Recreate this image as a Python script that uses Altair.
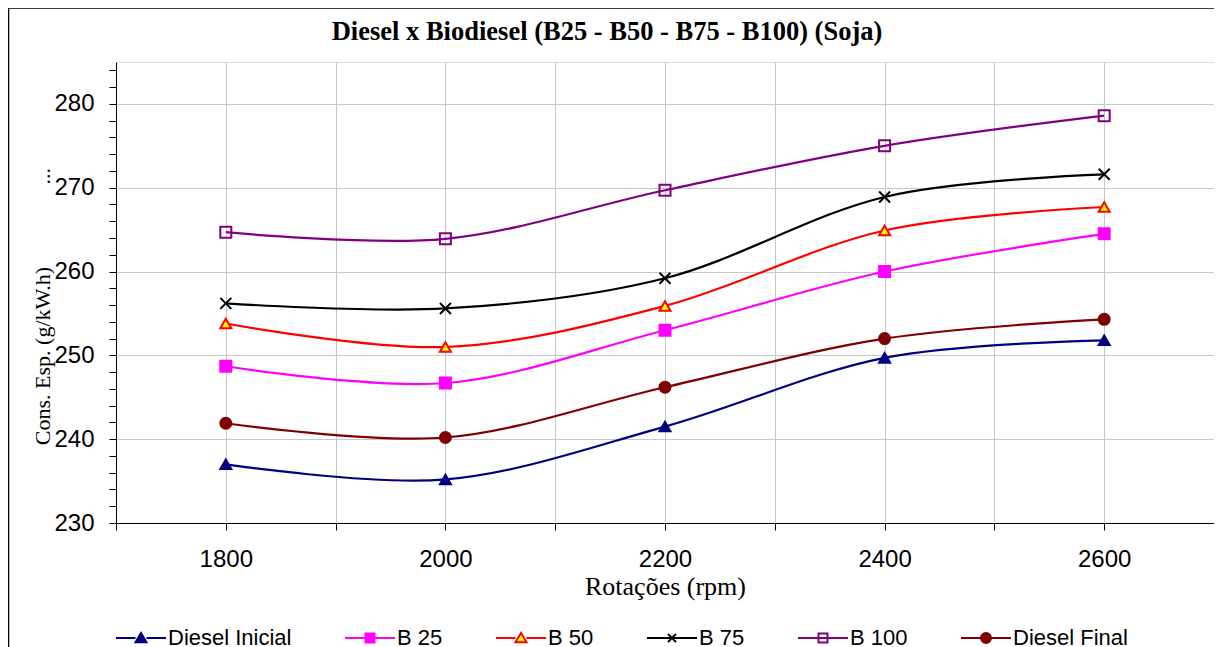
import altair as alt
import pandas as pd

# ---------------- data ----------------
rpm = [1800, 2000, 2200, 2400, 2600]
series_names = ["Diesel Inicial", "B 25", "B 50", "B 75", "B 100", "Diesel Final"]
marker_keys = ["m_di", "m_b25", "m_b50", "m_b75", "m_b100", "m_df"]

diesel_inicial = [237.0, 235.2, 241.5, 249.7, 251.8]
b25 = [248.7, 246.7, 253.0, 260.0, 264.5]
b50 = [253.8, 251.0, 255.9, 264.9, 267.7]
b75 = [256.2, 255.6, 259.2, 268.9, 271.6]
b100 = [264.7, 263.9, 269.7, 275.0, 278.6]
diesel_final = [241.9, 240.2, 246.2, 252.0, 254.3]

all_values = [diesel_inicial, b25, b50, b75, b100, diesel_final]

line_colors = ["#000080", "#FF00FF", "#FF0000", "#000000", "#800080", "#800000"]
marker_fills = ["#000080", "#FF00FF", "#FFFF00", "transparent", "transparent", "#800000"]

title_text = "Diesel x Biodiesel (B25 - B50 - B75 - B100) (Soja)"
x_title = "Rotações (rpm)"
y_title = "Cons. Esp. (g/kW.h)" + "\u00a0" * 15 + "..."

# ---------------- table ----------------
rows = []
for name, key, vals in zip(series_names, marker_keys, all_values):
    for r, v in zip(rpm, vals):
        rows.append({"rpm": r, "value": v, "series": name, "marker": key})
df = pd.DataFrame(rows)

# marker symbols on the data points
x_path = "M-1,-1L1,1M-1,1L1,-1"
marker_shapes = ["triangle-up", "square", "triangle-up", x_path, "square", "circle"]

# legend symbols: line + small marker
tri = "M0,-0.2L0.22,0.17L-0.22,0.17Z"
sq = "M-0.18,-0.18H0.18V0.18H-0.18Z"
circ = "M0.2,0A0.2,0.2 0 1,1 -0.2,0A0.2,0.2 0 1,1 0.2,0Z"
xs = "M-0.16,-0.16L0.16,0.16M-0.16,0.16L0.16,-0.16"
legend_shapes = [
    "M-1,0H-0.22M0.22,0H1" + tri,
    "M-1,0H-0.18M0.18,0H1" + sq,
    "M-1,0H-0.22M0.22,0H1" + tri,
    "M-1,0H1" + xs,
    "M-1,0H1" + sq,
    "M-1,0H-0.2M0.2,0H1" + circ,
]

domain = series_names + marker_keys
line_scale = alt.Scale(domain=series_names, range=line_colors)
stroke_scale = alt.Scale(domain=domain, range=line_colors + line_colors)
fill_scale = alt.Scale(domain=domain, range=marker_fills + marker_fills)
shape_scale = alt.Scale(domain=domain, range=legend_shapes + marker_shapes)

W, H = 1098, 461

legend = alt.Legend(
    values=series_names,
    title=None,
    orient="none",
    legendX=-1,
    legendY=550,
    direction="horizontal",
    columns=6,
    symbolSize=2500,
    symbolStrokeWidth=2,
    symbolFillColor="transparent",
    labelFont="Liberation Sans",
    labelFontSize=22,
    labelColor="black",
    labelOffset=1,
    columnPadding=49,
    padding=0,
    labelLimit=400,
)

x_axis = alt.Axis(
    values=list(range(1700, 2701, 100)),
    labelExpr="(datum.value - 1800) % 200 == 0 && datum.value <= 2600 ? datum.value + '' : ''",
    title=x_title,
    titleFont="Liberation Serif",
    titleFontSize=26,
    titleFontWeight="normal",
    titleColor="black",
    titlePadding=2,
    labelFont="Liberation Sans",
    labelFontSize=24,
    labelColor="black",
    labelPadding=17,
    labelFlush=False,
    labelOverlap=False,
    tickSize=7,
    tickColor="black",
    domainColor="black",
    gridColor="#c8c8c8",
)

y_axis = alt.Axis(
    values=list(range(230, 285, 2)),
    labelExpr="datum.value % 10 == 0 ? datum.value + '' : ''",
    gridOpacity={"condition": {"test": "datum.value % 10 == 0", "value": 1}, "value": 0},
    title=y_title,
    titleFont="Liberation Serif",
    titleFontSize=22,
    titleFontWeight="normal",
    titleColor="black",
    titleAngle=270,
    titleAlign="center",
    titleBaseline="middle",
    titleX=-74,
    titleY=244,
    labelFont="Liberation Sans",
    labelFontSize=24,
    labelColor="black",
    labelPadding=15,
    labelFlush=False,
    labelOverlap=False,
    tickSize=7,
    tickColor="black",
    domainColor="black",
    gridColor="#c8c8c8",
)

x_enc = alt.X("rpm:Q", scale=alt.Scale(domain=[1700, 2700], nice=False, zero=False), axis=x_axis)
y_enc = alt.Y("value:Q", scale=alt.Scale(domain=[230, 285], nice=False, zero=False), axis=y_axis)

frame = alt.Chart(pd.DataFrame({"k": [0]})).mark_rect(
    fill="transparent", stroke="black", strokeWidth=1.5
).encode(
    x=alt.value(-107.5), x2=alt.value(W + 200), y=alt.value(-54), y2=alt.value(H + 300)
)

lines = alt.Chart(df).mark_line(interpolate="cardinal", tension=0, strokeWidth=2.2).encode(
    x=x_enc,
    y=y_enc,
    color=alt.Color("series:N", scale=line_scale, legend=None),
)

points = alt.Chart(df).mark_point(opacity=1, strokeWidth=2, size=121).encode(
    x=x_enc,
    y=y_enc,
    stroke=alt.Stroke("series:N", scale=stroke_scale, legend=legend),
    fill=alt.Fill("series:N", scale=fill_scale, legend=legend),
    shape=alt.Shape("marker:N", scale=shape_scale, legend=legend),
)

chart = alt.layer(frame, lines, points).properties(
    width=W,
    height=H,
    autosize=alt.AutoSizeParams(type="none"),
    padding={"left": 108, "top": 54, "right": 0, "bottom": 130},
    title=alt.Title(
        title_text,
        font="Liberation Serif",
        fontSize=26.5,
        fontWeight="bold",
        color="black",
        anchor="middle",
        frame="group",
        dx=-58,
        offset=-38,
    ),
).configure_view(
    stroke="#404040", strokeWidth=1
).configure(background="white")

chart.save("out.html", embed_options={"renderer": "svg", "actions": False})
